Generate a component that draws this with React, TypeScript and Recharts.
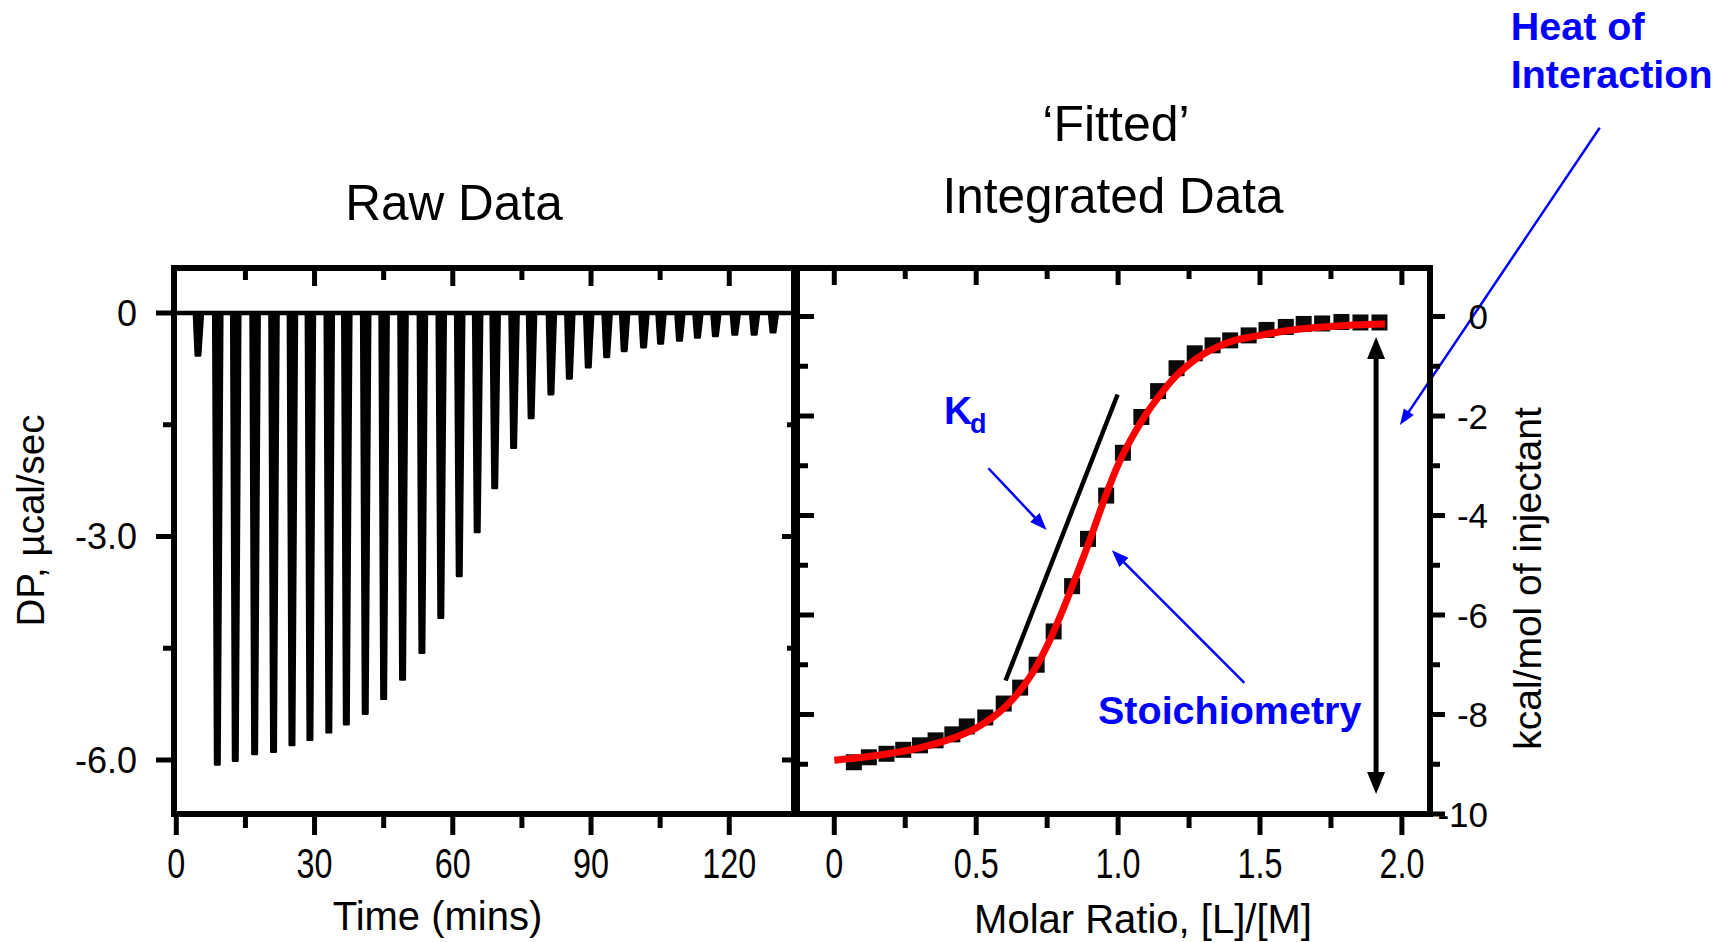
import React from "react";
import { ComposedChart, Line, Area, Scatter, XAxis, YAxis, ReferenceLine } from "recharts";

// ---------------- Raw data panel (DP vs time) ----------------
const injectionTimes = [
  4.7, 8.9, 12.8, 17.0, 21.1, 25.1, 29.0, 33.1, 36.9, 41.0, 45.0, 49.1, 53.3, 57.4, 61.4, 65.3,
  69.1, 73.2, 77.0, 81.3, 85.3, 89.4, 93.4, 97.2, 101.4, 105.1, 109.2, 113.1, 117.0, 121.2, 125.4, 129.5,
];
const injectionPeaks = [
  -0.57, -6.06, -6.01, -5.92, -5.89, -5.8, -5.73, -5.63, -5.52, -5.38, -5.18, -4.92, -4.56, -4.09, -3.53, -2.94,
  -2.35, -1.81, -1.41, -1.09, -0.88, -0.73, -0.59, -0.51, -0.46, -0.41, -0.37, -0.33, -0.31, -0.29, -0.29, -0.26,
];
const timeMajorTicks = [0, 30, 60, 90, 120];
const timeMinorTicks = [15, 45, 75, 105];
const timeTickLabels = ["0", "30", "60", "90", "120"];
const dpMajorTicks = [0, -3, -6];
const dpMinorTicks = [-1.5, -4.5];
const dpTickLabels = ["0", "-3.0", "-6.0"];
const timeDomain = [-0.5, 134.05];
const dpDomain = [-6.725, 0.604];

// ---------------- Integrated panel (kcal/mol vs molar ratio) ----------------
const molarRatio = [
  0.076, 0.129, 0.191, 0.25, 0.309, 0.364, 0.423, 0.474, 0.539, 0.604, 0.662, 0.72, 0.78, 0.845, 0.901, 0.965,
  1.024, 1.089, 1.148, 1.213, 1.277, 1.34, 1.402, 1.467, 1.53, 1.598, 1.661, 1.726, 1.794, 1.861, 1.928,
];
const heatPerInjection = [
  -9.0, -8.9, -8.83, -8.75, -8.66, -8.56, -8.44, -8.28, -8.1, -7.82, -7.5, -7.04, -6.37, -5.46, -4.51, -3.64,
  -2.78, -2.06, -1.54, -1.08, -0.78, -0.62, -0.52, -0.42, -0.31, -0.25, -0.19, -0.18, -0.15, -0.16, -0.16,
];
const fitRatio = [
  0, 0.1, 0.2, 0.3, 0.4, 0.5, 0.6, 0.65, 0.7, 0.75, 0.8, 0.85, 0.9, 0.95, 1.0, 1.05, 1.1, 1.15, 1.2, 1.25, 1.3,
  1.35, 1.4, 1.5, 1.6, 1.7, 1.8, 1.94,
];
const fitHeat = [
  -8.92, -8.86, -8.78, -8.67, -8.51, -8.27, -7.86, -7.55, -7.15, -6.62, -5.97, -5.25, -4.5, -3.7, -2.98, -2.42,
  -1.95, -1.56, -1.22, -0.96, -0.76, -0.61, -0.5, -0.38, -0.28, -0.22, -0.18, -0.15,
];
const ratioMajorTicks = [0, 0.5, 1, 1.5, 2];
const ratioMinorTicks = [0.25, 0.75, 1.25, 1.75];
const ratioTickLabels = ["0", "0.5", "1.0", "1.5", "2.0"];
const heatMajorTicks = [0, -2, -4, -6, -8, -10];
const heatMinorTicks = [-1, -3, -5, -7, -9];
const heatTickLabels = ["0", "-2", "-4", "-6", "-8", "-10"];
const ratioDomain = [-0.1314, 2.099];
const heatDomain = [-10, 0.975];

// annotation anchors (data units of the integrated panel)
const tangentSegment = [{ x: 0.6035, y: -7.317 }, { x: 0.9983, y: -1.568 }];
const heatSpanSegment = [{ x: 1.909, y: -0.41 }, { x: 1.909, y: -9.6 }];
const kdPointer = [{ x: 0.543, y: -3.05 }, { x: 0.748, y: -4.29 }];
const stoichPointer = [{ x: 1.445, y: -7.363 }, { x: 0.978, y: -4.7 }];
const heatPointer = [{ x: 2.697, y: 3.795 }, { x: 1.993, y: -2.181 }];

// ---------------- tables for the library ----------------
// each injection drawn as a narrow dip: (time offset, fraction of the peak)
const SPIKE_SHAPE = [
  [-0.9, 0],
  [-0.5, 1],
  [0.5, 1],
  [1.1, 0],
];
const rawTrace: { t: number; dp: number }[] = [{ t: timeDomain[0], dp: 0 }];
injectionTimes.forEach((t, i) => {
  SPIKE_SHAPE.forEach(([dt, f]) => rawTrace.push({ t: t + dt, dp: injectionPeaks[i] * f }));
});
rawTrace.push({ t: timeDomain[1], dp: 0 });

const injectionData = molarRatio.map((x, i) => ({ x, y: heatPerInjection[i] }));
const fitData = fitRatio.map((x, i) => ({ x, y: fitHeat[i] }));

const sortNum = (a: number[]) => [...a].sort((p, q) => p - q);

const SANS = "'Liberation Sans', Arial, Helvetica, sans-serif";
const BLUE = "#0000ff";

type TickOpts = {
  dir: [number, number];
  majors: number[];
  majorLen: number;
  minorLen: number;
  labels?: string[];
  ldx?: number;
  ldy?: number;
  anchor?: "start" | "middle" | "end";
  fontSize?: number;
  scaleX?: number;
};

function makeTick(o: TickOpts) {
  return (props: any) => {
    const { x, y, payload } = props;
    const v = payload ? payload.value : 0;
    const idx = o.majors.findIndex((m) => Math.abs(m - v) < 1e-6);
    const len = idx >= 0 ? o.majorLen : o.minorLen;
    return (
      <g>
        <line x1={x} y1={y} x2={x + o.dir[0] * len} y2={y + o.dir[1] * len} stroke="#000" strokeWidth={5} />
        {o.labels && idx >= 0 ? (
          <text
            transform={`translate(${x + (o.ldx || 0)},${y + (o.ldy || 0)}) scale(${o.scaleX || 1},1)`}
            x={0}
            y={0}
            textAnchor={o.anchor || "middle"}
            fontSize={o.fontSize}
            fontFamily={SANS}
            fill="#000"
          >
            {o.labels[idx]}
          </text>
        ) : null}
      </g>
    );
  };
}

function arrowShape(color: string, width: number, headLen: number, headWidth: number, heads: "end" | "both" | "none") {
  return (p: any) => {
    const { x1, y1, x2, y2 } = p;
    if (![x1, y1, x2, y2].every((n) => Number.isFinite(n))) return <g />;
    const dx = x2 - x1;
    const dy = y2 - y1;
    const L = Math.hypot(dx, dy) || 1;
    const ux = dx / L;
    const uy = dy / L;
    const px = -uy;
    const py = ux;
    const head = (tx: number, ty: number, sx: number, sy: number) => {
      const bx = tx - sx * headLen;
      const by = ty - sy * headLen;
      const hw = headWidth / 2;
      return (
        <polygon
          points={`${tx},${ty} ${bx + px * hw},${by + py * hw} ${bx - px * hw},${by - py * hw}`}
          fill={color}
        />
      );
    };
    let sx = x1;
    let sy = y1;
    let ex = x2;
    let ey = y2;
    if (heads !== "none") {
      ex = x2 - ux * headLen * 0.8;
      ey = y2 - uy * headLen * 0.8;
    }
    if (heads === "both") {
      sx = x1 + ux * headLen * 0.8;
      sy = y1 + uy * headLen * 0.8;
    }
    return (
      <g>
        <line x1={sx} y1={sy} x2={ex} y2={ey} stroke={color} strokeWidth={width} />
        {heads !== "none" ? head(x2, y2, ux, uy) : null}
        {heads === "both" ? head(x1, y1, -ux, -uy) : null}
      </g>
    );
  };
}

const frameLine = { stroke: "#000", strokeWidth: 6, strokeLinecap: "square" as const };

const squareShape = (p: any) =>
  Number.isFinite(p.cx) && Number.isFinite(p.cy) ? (
    <rect x={p.cx - 10} y={p.cy - 10} width={16} height={16} fill="#0a0a0a" />
  ) : (
    <g />
  );

function RawPanel() {
  const timeTicks = sortNum([...timeMajorTicks, ...timeMinorTicks]);
  const dpTicks = sortNum([...dpMajorTicks, ...dpMinorTicks]);
  return (
    <div style={{ position: "absolute", left: 0, top: 0 }}>
      <ComposedChart width={800} height={942} margin={{ top: 0, right: 0, bottom: 0, left: 0 }}>
        <XAxis
          xAxisId="b"
          type="number"
          dataKey="t"
          orientation="bottom"
          domain={timeDomain}
          allowDataOverflow
          ticks={timeTicks}
          interval={0}
          height={128}
          tickSize={0}
          tickMargin={0}
          tickLine={false}
          axisLine={frameLine}
          tick={makeTick({
            dir: [0, 1],
            majors: timeMajorTicks,
            majorLen: 21,
            minorLen: 14,
            labels: timeTickLabels,
            ldy: 64,
            anchor: "middle",
            fontSize: 42,
            scaleX: 0.77,
          })}
        />
        <XAxis
          xAxisId="t"
          type="number"
          dataKey="t"
          orientation="top"
          domain={timeDomain}
          allowDataOverflow
          ticks={timeTicks.filter((v) => v > 0)}
          interval={0}
          height={268}
          tickSize={0}
          tickMargin={0}
          tickLine={false}
          axisLine={frameLine}
          tick={makeTick({ dir: [0, 1], majors: timeMajorTicks, majorLen: 18, minorLen: 12 })}
        />
        <YAxis
          yAxisId="l"
          type="number"
          orientation="left"
          domain={dpDomain}
          allowDataOverflow
          ticks={dpTicks}
          interval={0}
          width={174}
          tickSize={0}
          tickMargin={0}
          tickLine={false}
          axisLine={frameLine}
          tick={makeTick({
            dir: [-1, 0],
            majors: dpMajorTicks,
            majorLen: 18,
            minorLen: 11,
            labels: dpTickLabels,
            ldx: -37,
            ldy: 13,
            anchor: "end",
            fontSize: 36,
          })}
        />
        <YAxis
          yAxisId="r"
          type="number"
          orientation="right"
          domain={dpDomain}
          allowDataOverflow
          ticks={dpTicks.filter((v) => v < 0)}
          interval={0}
          width={6}
          tickSize={0}
          tickMargin={0}
          tickLine={false}
          axisLine={frameLine}
          tick={makeTick({ dir: [-1, 0], majors: dpMajorTicks, majorLen: 12, minorLen: 7 })}
        />
        <Area
          xAxisId="b"
          yAxisId="l"
          data={rawTrace}
          dataKey="dp"
          type="linear"
          baseValue={0}
          stroke="#000"
          strokeWidth={2.4}
          strokeLinejoin="round"
          fill="#000"
          fillOpacity={1}
          dot={false}
          activeDot={false}
          isAnimationActive={false}
        />
        <ReferenceLine xAxisId="b" yAxisId="l" y={0} stroke="#000" strokeWidth={4.5} />
      </ComposedChart>
    </div>
  );
}

const integratedAxes = (withTicks: boolean) => {
  const ratioTicks = sortNum([...ratioMajorTicks, ...ratioMinorTicks]);
  const heatTicks = sortNum([...heatMajorTicks, ...heatMinorTicks]);
  return [
    <XAxis
      key="xb"
      xAxisId="b"
      type="number"
      dataKey="x"
      orientation="bottom"
      domain={ratioDomain}
      allowDataOverflow
      ticks={ratioTicks}
      interval={0}
      height={128}
      hide={!withTicks}
      tickSize={0}
      tickMargin={0}
      tickLine={false}
      axisLine={frameLine}
      tick={makeTick({
        dir: [0, 1],
        majors: ratioMajorTicks,
        majorLen: 21,
        minorLen: 14,
        labels: ratioTickLabels,
        ldy: 64,
        anchor: "middle",
        fontSize: 42,
        scaleX: 0.77,
      })}
    />,
    <XAxis
      key="xt"
      xAxisId="t"
      type="number"
      dataKey="x"
      orientation="top"
      domain={ratioDomain}
      allowDataOverflow
      ticks={ratioTicks}
      interval={0}
      height={268}
      hide={!withTicks}
      tickSize={0}
      tickMargin={0}
      tickLine={false}
      axisLine={frameLine}
      tick={makeTick({ dir: [0, 1], majors: ratioMajorTicks, majorLen: 17, minorLen: 11 })}
    />,
    <YAxis
      key="yl"
      yAxisId="l"
      type="number"
      orientation="left"
      domain={heatDomain}
      allowDataOverflow
      ticks={heatTicks.filter((v) => v > -10)}
      interval={0}
      width={97}
      hide={!withTicks}
      tickSize={0}
      tickMargin={0}
      tickLine={false}
      axisLine={frameLine}
      tick={makeTick({ dir: [1, 0], majors: heatMajorTicks, majorLen: 17, minorLen: 11 })}
    />,
    <YAxis
      key="yr"
      yAxisId="r"
      type="number"
      orientation="right"
      domain={heatDomain}
      allowDataOverflow
      ticks={heatTicks}
      interval={0}
      width={301}
      hide={!withTicks}
      tickSize={0}
      tickMargin={0}
      tickLine={false}
      axisLine={frameLine}
      tick={makeTick({
        dir: [1, 0],
        majors: heatMajorTicks,
        majorLen: 15,
        minorLen: 10,
        labels: heatTickLabels,
        ldx: 58,
        ldy: 12.5,
        anchor: "end",
        fontSize: 35,
      })}
    />,
  ];
};

// injection squares: drawn in their own layer underneath the fitted curve
function IntegratedPoints() {
  return (
    <div style={{ position: "absolute", left: 700, top: 0 }}>
      <ComposedChart width={1031} height={942} margin={{ top: 268, right: 301, bottom: 128, left: 97 }}>
        {integratedAxes(false)}
        <Scatter
          xAxisId="b"
          yAxisId="l"
          data={injectionData}
          dataKey="y"
          shape={squareShape}
          isAnimationActive={false}
        />
      </ComposedChart>
    </div>
  );
}

function IntegratedPanel() {
  return (
    <div style={{ position: "absolute", left: 700, top: 0 }}>
      <ComposedChart width={1031} height={942} margin={{ top: 0, right: 0, bottom: 0, left: 0 }}>
        {integratedAxes(true)}
        <Line
          xAxisId="b"
          yAxisId="l"
          data={fitData}
          dataKey="y"
          type="monotone"
          stroke="#ff0000"
          strokeWidth={7}
          dot={false}
          activeDot={false}
          isAnimationActive={false}
        />
        <ReferenceLine
          xAxisId="b"
          yAxisId="l"
          segment={tangentSegment}
          ifOverflow="visible"
          shape={arrowShape("#000", 4.5, 0, 0, "none")}
        />
        <ReferenceLine
          xAxisId="b"
          yAxisId="l"
          segment={heatSpanSegment}
          ifOverflow="visible"
          shape={arrowShape("#000", 5, 22, 18, "both")}
        />
        <ReferenceLine
          xAxisId="b"
          yAxisId="l"
          segment={kdPointer}
          ifOverflow="visible"
          shape={arrowShape(BLUE, 2.5, 17, 13, "end")}
        />
        <ReferenceLine
          xAxisId="b"
          yAxisId="l"
          segment={stoichPointer}
          ifOverflow="visible"
          shape={arrowShape(BLUE, 2.5, 17, 13, "end")}
        />
        <ReferenceLine
          xAxisId="b"
          yAxisId="l"
          segment={heatPointer}
          ifOverflow="visible"
          shape={arrowShape(BLUE, 2.5, 16, 12, "end")}
        />
      </ComposedChart>
    </div>
  );
}

function TextLayer() {
  return (
    <svg
      width={1731}
      height={942}
      style={{ position: "absolute", left: 0, top: 0, pointerEvents: "none" }}
      fontFamily={SANS}
    >
      <text x={454} y={220} fontSize={49.5} textAnchor="middle" fill="#000">
        Raw Data
      </text>
      <text x={1116} y={141} fontSize={50} textAnchor="middle" fill="#000">
        ‘Fitted’
      </text>
      <text x={1113} y={213} fontSize={49.5} textAnchor="middle" fill="#000">
        Integrated Data
      </text>
      <text x={437.5} y={930} fontSize={40} textAnchor="middle" fill="#000">
        Time (mins)
      </text>
      <text x={1143} y={933} fontSize={40} textAnchor="middle" fill="#000">
        Molar Ratio, [L]/[M]
      </text>
      <text transform="translate(44,520.5) rotate(-90)" fontSize={38.5} textAnchor="middle" fill="#000">
        DP, µcal/sec
      </text>
      <text transform="translate(1541,578.5) rotate(-90)" fontSize={39} textAnchor="middle" fill="#000">
        kcal/mol of injectant
      </text>
      <text x={1510.7} y={40} fontSize={39.5} fontWeight="bold" fill={BLUE}>
        Heat of
      </text>
      <text x={1510.7} y={88} fontSize={39.5} fontWeight="bold" fill={BLUE}>
        Interaction
      </text>
      <text x={944} y={424} fontSize={39} fontWeight="bold" fill={BLUE}>
        K
      </text>
      <text x={970} y={433} fontSize={27} fontWeight="bold" fill={BLUE}>
        d
      </text>
      <text x={1098} y={724} fontSize={39.5} fontWeight="bold" fill={BLUE}>
        Stoichiometry
      </text>
    </svg>
  );
}

export default function App() {
  return (
    <div style={{ position: "absolute", left: 0, top: 0, width: 1731, height: 942, background: "#fff", overflow: "hidden" }}>
      <RawPanel />
      <IntegratedPoints />
      <IntegratedPanel />
      <TextLayer />
    </div>
  );
}
